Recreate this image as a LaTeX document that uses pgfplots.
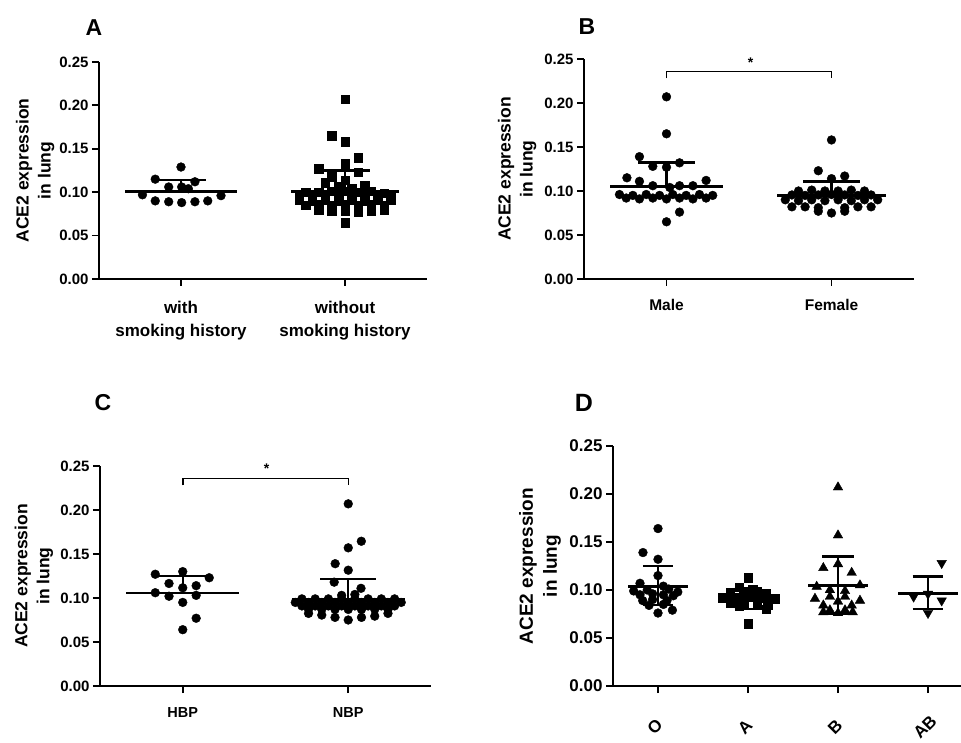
\documentclass[border=0pt]{standalone}
\usepackage{fontspec}
\setmainfont{Liberation Sans}
\usepackage{pgfplots}
\pgfplotsset{compat=1.18}

\pgfplotsset{
  panel/.style={
    scale only axis, ymin=0, ymax=0.25, xmin=-0.5, xmax=1.5,
    axis x line*=bottom, axis y line*=left,
    axis line style={-, line width=1.8pt},
    ytick={0,0.05,0.1,0.15,0.2,0.25},
    tick align=outside, major tick length=7pt,
    every tick/.style={black, line width=1.8pt},
    /pgf/number format/assume math mode=true,
    yticklabel style={/pgf/number format/fixed, /pgf/number format/fixed zerofill,
      /pgf/number format/precision=2, font=\fontsize{15}{18}\selectfont\bfseries},
    clip=false, unbounded coords=jump,
    ylabel={ACE2 expression\\in lung},
    ylabel style={align=center, anchor=center, font=\fontsize{17.5}{22}\selectfont\bfseries},
  },
  dots/.style={only marks, mark=*, mark size=4.4pt, black},
  sq/.style={only marks, mark=square*, mark size=4.3pt, black},
  tri/.style={only marks, mark=triangle*, mark size=5.5pt, black},
  stat/.style={black, line width=2.4pt, no marks},
  brk/.style={black, line width=1.5pt, no marks},
}

\begin{document}
\begin{tikzpicture}
\useasboundingbox (0,0) rectangle (961pt,742pt);

% ---------- A ----------
\node[font=\fontsize{23}{28}\selectfont\bfseries] at (94pt,714pt) {A};
\begin{axis}[panel, at={(99pt,463pt)}, anchor=south west, width=328pt, height=217pt,
  ylabel style={at={(axis description cs:-0.195,0.5)}},
  xtick={0,1}, xticklabels={{with\\smoking history},{without\\smoking history}},
  xticklabel style={yshift=-12pt, align=center, font=\fontsize{17}{23}\selectfont\bfseries}]
\addplot[dots] coordinates {(0,0.129) (-0.157,0.115) (0.085,0.112) (-0.075,0.106) (0.004,0.106) (0.045,0.104) (-0.235,0.097) (0.244,0.096) (-0.157,0.090) (-0.075,0.089) (0.004,0.088) (0.085,0.089) (0.163,0.090)};
\addplot[sq] coordinates {(1,0.207) (0.92,0.165) (1,0.158) (1.08,0.140) (0.84,0.127) (1,0.133) (1.08,0.123) (0.92,0.118) (1,0.114) (0.88,0.111) (1.12,0.108) (0.96,0.106) (1.04,0.104)
 (0.76,0.100) (0.84,0.100) (0.92,0.101) (1,0.101) (1.08,0.100) (1.16,0.101) (1.24,0.099)
 (0.72,0.096) (0.80,0.097) (0.88,0.096) (0.96,0.097) (1.04,0.096) (1.12,0.097) (1.20,0.096) (1.28,0.097)
 (0.72,0.091) (0.80,0.090) (0.88,0.091) (0.96,0.090) (1.04,0.091) (1.12,0.090) (1.20,0.091) (1.28,0.091)
 (0.76,0.085) (0.84,0.086) (0.92,0.085) (1,0.086) (1.08,0.085) (1.16,0.086) (1.24,0.085)
 (0.84,0.080) (0.92,0.078) (1,0.079) (1.08,0.077) (1.16,0.079) (1.24,0.080)
 (1,0.065)};
\addplot[stat] coordinates {(-0.34,0.101) (0.34,0.101) (nan,nan) (-0.15,0.114) (0.15,0.114) (nan,nan) (0,0.101) (0,0.114) (nan,nan)
 (0.67,0.1006) (1.33,0.1006) (nan,nan) (0.85,0.125) (1.15,0.125) (nan,nan) (1,0.1006) (1,0.125)};
\end{axis}

% ---------- B ----------
\node[font=\fontsize{23}{28}\selectfont\bfseries] at (587pt,715pt) {B};
\begin{axis}[panel, at={(584pt,463pt)}, anchor=south west, width=330pt, height=220pt,
  ylabel style={at={(axis description cs:-0.203,0.5)}},
  xtick={0,1}, xticklabels={Male,Female},
  xticklabel style={yshift=-10pt, font=\fontsize{15.5}{19}\selectfont\bfseries}]
\addplot[dots] coordinates {(0,0.207) (0,0.165) (-0.164,0.139) (0.079,0.132) (-0.083,0.128) (0,0.127) (-0.24,0.115) (-0.164,0.111) (0.24,0.112) (-0.083,0.106) (0.079,0.106) (0.16,0.106) (0.02,0.104)
 (-0.285,0.096) (-0.204,0.095) (-0.123,0.096) (-0.042,0.095) (0.038,0.096) (0.119,0.095) (0.2,0.096) (0.28,0.095)
 (-0.244,0.092) (-0.164,0.091) (-0.083,0.092) (0,0.091) (0.079,0.092) (0.16,0.091) (0.24,0.092)
 (0.079,0.076) (0,0.065)};
\addplot[dots] coordinates {(1,0.158) (0.92,0.123) (1.08,0.117) (1,0.114)
 (0.8,0.100) (0.88,0.101) (0.96,0.100) (1.04,0.100) (1.12,0.101) (1.2,0.100)
 (0.76,0.0955) (0.84,0.095) (0.92,0.0955) (1,0.096) (1.08,0.0955) (1.16,0.095) (1.24,0.0955)
 (0.72,0.090) (0.8,0.089) (0.88,0.090) (0.96,0.089) (1.04,0.090) (1.12,0.089) (1.2,0.090) (1.28,0.090)
 (0.76,0.082) (0.84,0.082) (0.92,0.081) (1.08,0.081) (1.16,0.082) (1.24,0.082)
 (0.92,0.077) (1,0.075) (1.08,0.077)};
\addplot[stat] coordinates {(-0.34,0.105) (0.34,0.105) (nan,nan) (-0.17,0.1326) (0.17,0.1326) (nan,nan) (0,0.105) (0,0.1326) (nan,nan)
 (0.67,0.095) (1.33,0.095) (nan,nan) (0.83,0.111) (1.17,0.111) (nan,nan) (1,0.095) (1,0.111)};
\addplot[brk] coordinates {(0,0.228) (0,0.2356) (1,0.2356) (1,0.228)};
\node[font=\fontsize{14}{14}\selectfont\bfseries] at (axis cs:0.51,0.246) {*};
\end{axis}

% ---------- C ----------
\node[font=\fontsize{23}{28}\selectfont\bfseries] at (103pt,339pt) {C};
\begin{axis}[panel, at={(100pt,56pt)}, anchor=south west, width=331pt, height=220pt,
  ylabel style={at={(axis description cs:-0.2,0.5)}},
  xtick={0,1}, xticklabels={HBP,NBP},
  xticklabel style={yshift=-11pt, font=\fontsize{14.5}{18}\selectfont\bfseries}]
\addplot[dots] coordinates {(-0.166,0.127) (0,0.130) (0.16,0.123) (-0.083,0.1165) (0.081,0.114) (0,0.1116) (-0.166,0.106) (-0.083,0.102) (0.081,0.103) (0,0.095) (0.081,0.077) (0,0.064)};
\addplot[dots] coordinates {(1,0.207) (1.079,0.1645) (1,0.157) (0.921,0.139) (1,0.1316) (0.915,0.118) (1.077,0.111)
 (0.96,0.103) (1.04,0.104)
 (0.72,0.099) (0.8,0.099) (0.88,0.099) (0.96,0.099) (1.04,0.099) (1.12,0.099) (1.2,0.099) (1.28,0.099)
 (0.68,0.095) (0.76,0.095) (0.84,0.095) (0.92,0.095) (1,0.095) (1.08,0.095) (1.16,0.095) (1.24,0.095) (1.32,0.095)
 (0.72,0.091) (0.8,0.091) (0.88,0.091) (0.96,0.091) (1.04,0.091) (1.12,0.091) (1.2,0.091) (1.28,0.091)
 (0.76,0.087) (0.84,0.087) (0.92,0.087) (1,0.087) (1.08,0.087) (1.16,0.087) (1.24,0.087)
 (0.76,0.0825) (0.84,0.0806) (1.16,0.0794) (1.24,0.0825)
 (0.92,0.078) (1.08,0.078) (1,0.075)};
\addplot[stat] coordinates {(-0.34,0.106) (0.34,0.106) (nan,nan) (-0.177,0.125) (0.177,0.125) (nan,nan) (0,0.106) (0,0.125) (nan,nan)
 (0.66,0.0987) (1.34,0.0987) (nan,nan) (0.83,0.1214) (1.17,0.1214) (nan,nan) (1,0.0987) (1,0.1214)};
\addplot[brk] coordinates {(0,0.228) (0,0.236) (1,0.236) (1,0.228)};
\node[font=\fontsize{14}{14}\selectfont\bfseries] at (axis cs:0.507,0.247) {*};
\end{axis}

% ---------- D ----------
\node[font=\fontsize{25}{30}\selectfont\bfseries] at (584pt,339pt) {D};
\begin{axis}[panel, at={(613pt,56pt)}, anchor=south west, width=360pt, height=240pt,
  xmin=-0.5, xmax=3.5,
  yticklabel style={font=\fontsize{17}{20}\selectfont\bfseries},
  ylabel style={at={(axis description cs:-0.203,0.5)}, font=\fontsize{19}{24}\selectfont\bfseries},
  xtick={0,1,2,3}, xticklabels={O,A,B,AB},
  xticklabel style={yshift=-34pt, xshift=-3pt, rotate=45, anchor=center, font=\fontsize{17}{20}\selectfont\bfseries}]
\addplot[dots] coordinates {(0,0.164) (-0.167,0.139) (0,0.132) (0,0.115) (-0.2,0.107) (0.06,0.104) (-0.27,0.099) (-0.12,0.100) (0.12,0.101) (0.22,0.098)
 (-0.2,0.095) (-0.06,0.096) (0.06,0.095) (0.17,0.094) (-0.17,0.089) (-0.06,0.090) (0.1,0.089) (-0.1,0.084) (0.06,0.085) (0,0.076) (0.16,0.079)};
\addplot[sq] coordinates {(1,0.1128) (0.9,0.103) (1.05,0.101) (0.8,0.097) (0.95,0.097) (1.1,0.098) (1.2,0.096) (0.72,0.092) (0.85,0.092) (1,0.093) (1.15,0.092) (1.3,0.091)
 (0.8,0.087) (0.95,0.087) (1.1,0.086) (1.22,0.085) (0.9,0.083) (1.2,0.080) (1,0.0646)};
\addplot[tri] coordinates {(2,0.207) (2,0.157) (2,0.127) (1.837,0.123) (2.152,0.118) (2.244,0.105) (1.763,0.1035) (1.91,0.100) (2.078,0.099)
 (1.744,0.091) (1.91,0.093) (2.078,0.093) (2.244,0.089) (2,0.088) (1.837,0.084) (2.152,0.084) (1.91,0.079) (2.078,0.079) (1.837,0.077) (2.163,0.077) (2,0.076)};
\addplot[tri, mark options={rotate=180}] coordinates {(3.152,0.128) (2.84,0.093) (3,0.096) (3.152,0.089) (3,0.076)};
\addplot[stat] coordinates {(-0.33,0.1035) (0.33,0.1035) (nan,nan) (-0.167,0.125) (0.167,0.125) (nan,nan) (-0.167,0.0844) (0.167,0.0844) (nan,nan) (0,0.0844) (0,0.125) (nan,nan)
 (0.69,0.091) (1.31,0.091) (nan,nan) (0.85,0.102) (1.15,0.102) (nan,nan) (0.85,0.080) (1.15,0.080) (nan,nan) (1,0.080) (1,0.102) (nan,nan)
 (1.67,0.1045) (2.33,0.1045) (nan,nan) (1.824,0.1347) (2.176,0.1347) (nan,nan) (1.824,0.0757) (2.176,0.0757) (nan,nan) (2,0.0757) (2,0.1347) (nan,nan)
 (2.67,0.0965) (3.33,0.0965) (nan,nan) (2.83,0.114) (3.17,0.114) (nan,nan) (2.83,0.080) (3.17,0.080) (nan,nan) (3,0.080) (3,0.114)};
\end{axis}
\end{tikzpicture}
\end{document}
